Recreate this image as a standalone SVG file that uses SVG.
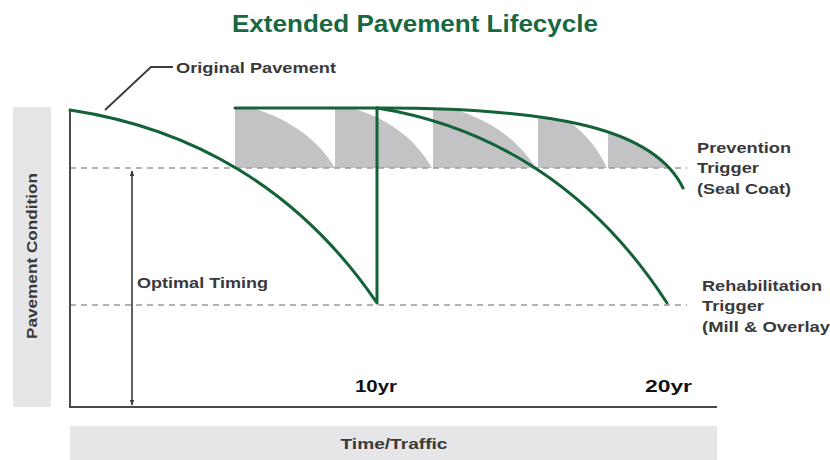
<svg xmlns="http://www.w3.org/2000/svg" width="830" height="460" viewBox="0 0 830 460">
<style>
.lbl{font-family:"Liberation Sans","DejaVu Sans",sans-serif;font-weight:bold;fill:#3a3a3a}
.title{font-family:"Liberation Sans","DejaVu Sans",sans-serif;font-weight:bold;fill:#17693f;font-size:23px}
.g{fill:none;stroke:#136238;stroke-width:3;stroke-linecap:round;stroke-linejoin:round}
.dash{stroke:#9a9a9a;stroke-width:1.6;stroke-dasharray:6 5;fill:none}
.axis{stroke:#4a4a4a;stroke-width:2;fill:none}
.band{fill:#e6e6e8}
.shade{fill:#c3c3c5}
</style>
<defs>
<marker id="ah" viewBox="0 0 10 10" refX="9" refY="5" markerWidth="6" markerHeight="8" orient="auto-start-reverse" markerUnits="userSpaceOnUse">
<path d="M0,1 L10,5 L0,9 Z" fill="#3a3a3a"/>
</marker>
<clipPath id="topArea">
<path d="M235,108 L380,108 C560,108 655,130 683,188 L683,168 L235,168 Z"/>
</clipPath>
</defs>
<text class="title" x="415" y="32" text-anchor="middle" textLength="366" lengthAdjust="spacingAndGlyphs">Extended Pavement Lifecycle</text>
<g id="bands">
<rect class="band" x="13" y="107" width="38" height="300"/>
<rect class="band" x="70" y="426" width="647" height="34"/>
<text class="lbl" x="0" y="0" font-size="14" text-anchor="middle" transform="translate(37,256) rotate(-90)" textLength="166" lengthAdjust="spacingAndGlyphs">Pavement Condition</text>
<text class="lbl" x="394" y="449" font-size="14" text-anchor="middle" textLength="107" lengthAdjust="spacingAndGlyphs">Time/Traffic</text>
</g>
<g id="shading" clip-path="url(#topArea)">
<path class="shade" d="M235,100 L235,168 L335,168 C318,140 290,118 245,106 L245,100 Z"/>
<path class="shade" d="M335,100 L335,168 L432,168 C416,140 390,118 345,106 L345,100 Z"/>
<path class="shade" d="M433,100 L433,168 L536,168 C518,140 490,118 443,106 L443,100 Z"/>
<path class="shade" d="M538,100 L538,168 L607,168 C595,142 576,122 545,108 L545,100 Z"/>
<path class="shade" d="M608,100 L608,168 L690,168 L690,100 Z"/>
</g>
<g id="grid">
<line class="dash" x1="70" y1="168" x2="687" y2="168"/>
<line class="dash" x1="70" y1="305" x2="687" y2="305"/>
</g>
<g id="axes">
<path class="axis" d="M70,110 L70,407 L717,407"/>
</g>
<g id="connectors">
<line x1="132" y1="171" x2="132" y2="405" stroke="#3a3a3a" stroke-width="1.6" marker-start="url(#ah)" marker-end="url(#ah)"/>
<path d="M105,110 L151,67 L173,67" fill="none" stroke="#3a3a3a" stroke-width="1.8"/>
</g>
<g id="curves">
<path class="g" d="M70,110 C190,128 298,187 377,303 L377,108"/>
<path class="g" d="M235,108 L380,108 C560,108 655,130 683,188"/>
<path class="g" d="M377,108 C490,126 592,187 667,303"/>
</g>
<g id="labels">
<text class="lbl" x="176" y="73" font-size="15" textLength="160" lengthAdjust="spacingAndGlyphs">Original Pavement</text>
<text class="lbl" x="137" y="288" font-size="15" textLength="131" lengthAdjust="spacingAndGlyphs">Optimal Timing</text>
<text class="lbl" x="697" y="153" font-size="15" textLength="94" lengthAdjust="spacingAndGlyphs">Prevention</text>
<text class="lbl" x="697" y="173" font-size="15" textLength="62" lengthAdjust="spacingAndGlyphs">Trigger</text>
<text class="lbl" x="697" y="194" font-size="15" textLength="94" lengthAdjust="spacingAndGlyphs">(Seal Coat)</text>
<text class="lbl" x="702" y="291" font-size="15" textLength="120" lengthAdjust="spacingAndGlyphs">Rehabilitation</text>
<text class="lbl" x="702" y="311" font-size="15" textLength="62" lengthAdjust="spacingAndGlyphs">Trigger</text>
<text class="lbl" x="702" y="332" font-size="15" textLength="128" lengthAdjust="spacingAndGlyphs">(Mill &amp; Overlay</text>
<text class="lbl" x="355" y="392" font-size="16" style="fill:#111" textLength="42" lengthAdjust="spacingAndGlyphs">10yr</text>
<text class="lbl" x="645" y="392" font-size="16" style="fill:#111" textLength="47" lengthAdjust="spacingAndGlyphs">20yr</text>
</g>
</svg>
